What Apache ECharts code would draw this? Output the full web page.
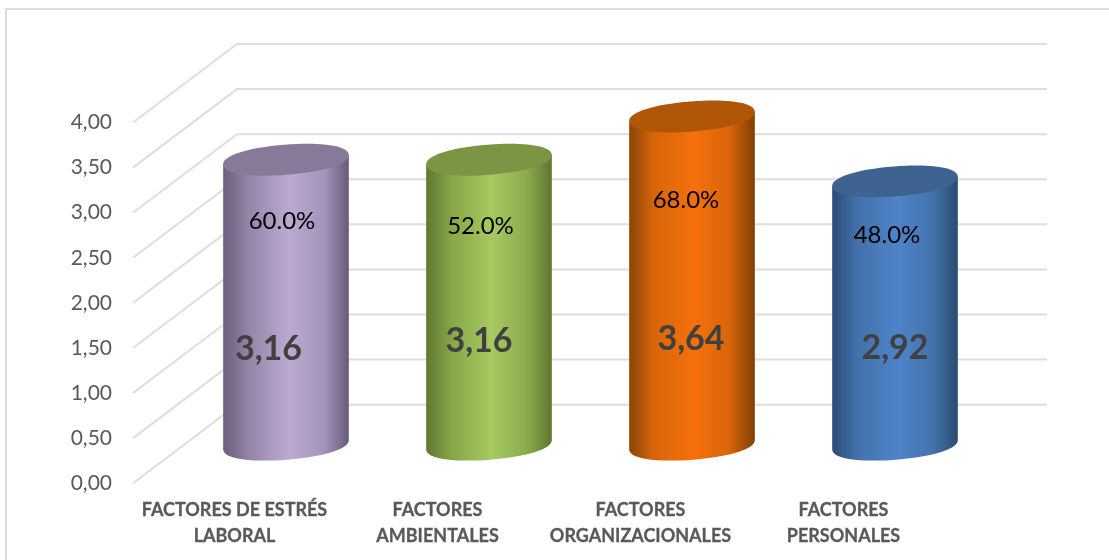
<!DOCTYPE html>
<html>
<head>
<meta charset="utf-8">
<style>html,body{margin:0;padding:0;background:#fff}#chart{width:1109px;height:560px}</style>
<script src="https://cdn.jsdelivr.net/npm/echarts@6/dist/echarts.min.js"></script>
</head>
<body>
<div id="chart"></div>
<script>
// Stress-factor scores with the share shown on each cylinder
const categories = ['FACTORES DE ESTRÉS\nLABORAL', 'FACTORES\nAMBIENTALES', 'FACTORES\nORGANIZACIONALES', 'FACTORES\nPERSONALES'];
const scores = [3.16, 3.16, 3.64, 2.92];
const shares = [60.0, 52.0, 68.0, 48.0];
const yTicks = [0, 0.5, 1, 1.5, 2, 2.5, 3, 3.5, 4];

// Depth of the pseudo-3D box and the cylinder geometry, in pixels
const WALL_DX = 104, WALL_DY = -78.5, WALL_TRIM = 2;
const BAR_DX = 51.5, BAR_DY = -38.5;
const RX = 63, RY = 15, TILT = 4.5, ROUNDING = 0.6;

// Body shading (edge, shoulder, highlight, shoulder, edge) and lid colour for each cylinder
const bodyShades = [
  ['#6a5f7c', '#9484a6', '#bca9d2', '#a595ba', '#665b78'],
  ['#5f7831', '#87a648', '#a6ca60', '#8cab4d', '#5d7530'],
  ['#8c4504', '#d9650a', '#f5700b', '#d9650a', '#7f3f04'],
  ['#2b4c74', '#4271ab', '#4f83c8', '#4473ad', '#2a4a70']
];
const lidColors = ['#867a98', '#7c9545', '#b15607', '#3e6391'];

// Hand-placed label nudges: share label from the lid centre, score label from the base centre
const shareNudge = [[-4, 62], [-8.5, 67], [-6, 84], [-8, 54]];
const scoreNudge = [[-17.5, -96], [-10, -104], [-1, -106], [0, -97]];

const FONT = 'Lato, "Open Sans", sans-serif';
const comma = v => v.toFixed(2).replace('.', ',');

// Point on a cylinder rim, given in rim-local units and tilted about the rim centre
function rimPoint(cx, cy, u, v) {
  const rad = TILT * Math.PI / 180;
  const x = u * RX, y = v * RY;
  return (cx + x * Math.cos(rad) + y * Math.sin(rad)) + ' ' + (cy - x * Math.sin(rad) + y * Math.cos(rad));
}

// Lower half of a rim from its left end to its right end, as two cubic curves
function lowerRim(cx, cy) {
  const k = ROUNDING, p = (u, v) => rimPoint(cx, cy, u, v);
  return `C${p(-1, k)} ${p(-k, 1)} ${p(0, 1)} C${p(k, 1)} ${p(1, k)} ${p(1, 0)}`;
}

// Upper half of a rim from its right end back to its left end
function upperRim(cx, cy) {
  const k = ROUNDING, p = (u, v) => rimPoint(cx, cy, u, v);
  return `C${p(1, -k)} ${p(k, -1)} ${p(0, -1)} C${p(-k, -1)} ${p(-1, -k)} ${p(-1, 0)}`;
}

function renderGrid(params, api) {
  const front = api.coord([0, api.value(0)]);
  const band = api.size([1, 0])[0];
  const x0 = front[0] - band / 2;
  const xBack = x0 + band * categories.length + WALL_DX - WALL_TRIM;
  return {
    type: 'polyline',
    shape: { points: [[x0, front[1]], [x0 + WALL_DX, front[1] + WALL_DY], [xBack, front[1] + WALL_DY]] },
    style: { stroke: '#dedede', lineWidth: 2, fill: null },
    silent: true
  };
}

function renderCylinder(params, api) {
  const i = params.dataIndex;
  const top = api.coord([i, api.value(1)]);
  const base = api.coord([i, 0]);
  const cx = top[0] + BAR_DX;
  const yTop = top[1] + BAR_DY;
  const yBase = base[1] + BAR_DY;
  const body = `M${rimPoint(cx, yTop, -1, 0)} L${rimPoint(cx, yBase, -1, 0)} ${lowerRim(cx, yBase)} L${rimPoint(cx, yTop, 1, 0)} Z`;
  const lid = `M${rimPoint(cx, yTop, -1, 0)} ${lowerRim(cx, yTop)} ${upperRim(cx, yTop)} Z`;
  const s = bodyShades[i];
  return {
    type: 'group',
    children: [
      {
        type: 'path',
        shape: { pathData: body },
        style: {
          fill: new echarts.graphic.LinearGradient(0, 0, 1, 0, [
            { offset: 0, color: s[0] }, { offset: 0.2, color: s[1] }, { offset: 0.52, color: s[2] },
            { offset: 0.8, color: s[3] }, { offset: 1, color: s[4] }
          ])
        }
      },
      { type: 'path', shape: { pathData: lid }, style: { fill: lidColors[i] } },
      {
        type: 'text',
        style: {
          x: cx + shareNudge[i][0], y: yTop + shareNudge[i][1],
          text: shares[i].toFixed(1) + '%',
          fill: '#000', font: '24px ' + FONT, align: 'center', verticalAlign: 'middle'
        }
      },
      {
        type: 'text',
        style: {
          x: cx + scoreNudge[i][0], y: yBase + scoreNudge[i][1],
          text: comma(api.value(1)),
          fill: '#404040', font: 'bold 34px ' + FONT, align: 'center', verticalAlign: 'middle'
        }
      }
    ]
  };
}

const chart = echarts.init(document.getElementById('chart'), null, { renderer: 'canvas' });
chart.setOption({
  animation: false,
  backgroundColor: '#fff',
  grid: { left: 133, right: 164, top: 122.5, bottom: 76.8, containLabel: false },
  xAxis: {
    type: 'category',
    data: categories,
    axisLine: { show: false },
    axisTick: { show: false },
    axisLabel: {
      interval: 0, margin: 14, color: '#595959', fontFamily: FONT, fontWeight: 'bold', fontSize: 18, lineHeight: 26,
      textBorderColor: '#595959', textBorderWidth: 0.3
    }
  },
  yAxis: {
    type: 'value',
    min: 0,
    max: 4,
    interval: 0.5,
    splitLine: { show: false },
    axisLine: { show: false },
    axisTick: { show: false },
    axisLabel: { margin: 21, color: '#595959', fontFamily: FONT, fontSize: 21, formatter: comma }
  },
  graphic: [{
    type: 'polyline',
    shape: { points: [[6, 560], [6, 9], [1109, 9]] },
    style: { stroke: '#dcdcdc', lineWidth: 2, fill: null },
    silent: true
  }],
  series: [
    {
      type: 'custom', z: 1, silent: true,
      coordinateSystem: 'cartesian2d',
      renderItem: renderGrid,
      encode: { y: 0 },
      data: yTicks.map(v => [v])
    },
    {
      type: 'custom', z: 2, silent: true,
      coordinateSystem: 'cartesian2d',
      renderItem: renderCylinder,
      encode: { x: 0, y: 1 },
      data: scores.map((v, i) => [i, v])
    }
  ]
});
</script>
</body>
</html>
